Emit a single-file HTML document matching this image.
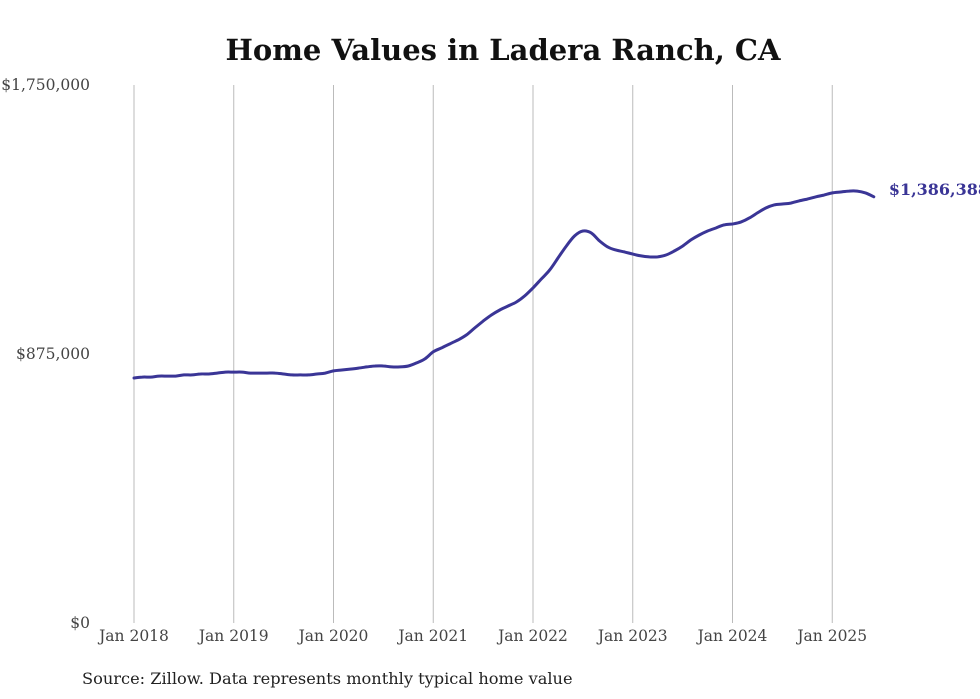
<!DOCTYPE html>
<html><head><meta charset="utf-8"><style>
html,body{margin:0;padding:0;background:#fff;width:980px;height:699px;overflow:hidden}
svg{display:block;font-family:"DejaVu Serif","Liberation Serif",serif}
</style></head><body>
<svg id="chart" width="980" height="699">
<text x="503" y="60" text-anchor="middle" font-size="29" font-weight="bold" fill="#111">Home Values in Ladera Ranch, CA</text>
<g id="grid"></g>
<g id="yaxis"></g>
<g id="xaxis"></g>
<path id="line" fill="none" stroke="#3a3596" stroke-width="3" stroke-linejoin="round" stroke-linecap="round"></path>
<text id="endlabel" font-size="16" font-weight="bold" fill="#3a3596"></text>
<text x="82" y="684" font-size="16.2" fill="#222">Source: Zillow. Data represents monthly typical home value</text>
</svg>
<script>
const yTicks=[0,875000,1750000];
const yTickLabels=["$0","$875,000","$1,750,000"];
const xTickYears=[2018,2019,2020,2021,2022,2023,2024,2025];
const startYear=2018;
const values=[
797,800,800,803,803,803,807,807,810,810,813,816,
816,816,813,813,813,813,810,807,807,807,810,813,
820,823,826,829,833,836,836,833,833,836,846,859,
882,895,908,921,937,960,982,1002,1018,1031,1044,1064,
1090,1119,1148,1187,1226,1259,1275,1269,1243,1223,1213,1207,
1200,1194,1191,1191,1197,1210,1226,1246,1262,1275,1285,1295,
1298,1304,1317,1334,1350,1360,1363,1366,1373,1379,1386,1392,
1399,1402,1405,1405,1399,1386.388].map(v=>v*1000);
const lastLabel="$1,386,388";
const NS="http://www.w3.org/2000/svg";
const x0=134,pxYear=99.75,yTop=85,yBot=623,yMax=1750000;
const xs=m=>x0+m*pxYear/12;
const ys=v=>yBot-(v/yMax)*(yBot-yTop);
function mk(t,a,p){const e=document.createElementNS(NS,t);for(const k in a)e.setAttribute(k,a[k]);p.appendChild(e);return e;}
const grid=document.getElementById('grid'),xa=document.getElementById('xaxis'),ya=document.getElementById('yaxis');
xTickYears.forEach(y=>{
 const x=xs((y-startYear)*12);
 const l=mk('line',{x1:x,x2:x,y1:yTop,y2:yBot,stroke:'#bbb','stroke-width':1},grid);
 
 
 const t=mk('text',{x:x,y:641,'text-anchor':'middle','font-size':15.5,fill:'#444'},xa);
 t.textContent='Jan '+y;
 
 
});
yTicks.forEach((v,i)=>{
 const t=mk('text',{x:90,y:ys(v)+5,'text-anchor':'end','font-size':15.5,fill:'#444'},ya);
 t.textContent=yTickLabels[i];
 
 
});
const pts=values.map((v,i)=>[xs(i),ys(v)]);
let d='M'+pts[0][0].toFixed(1)+','+pts[0][1].toFixed(1);
for(let i=0;i<pts.length-1;i++){
 const p0=pts[Math.max(0,i-1)],p1=pts[i],p2=pts[i+1],p3=pts[Math.min(pts.length-1,i+2)];
 const c1=[p1[0]+(p2[0]-p0[0])/6,p1[1]+(p2[1]-p0[1])/6],c2=[p2[0]-(p3[0]-p1[0])/6,p2[1]-(p3[1]-p1[1])/6];
 d+='C'+c1.map(n=>n.toFixed(1))+' '+c2.map(n=>n.toFixed(1))+' '+p2.map(n=>n.toFixed(1));
}
document.getElementById('line').setAttribute('d',d);
const n=values.length-1,el=document.getElementById('endlabel');
el.setAttribute('x',xs(n)+15);el.setAttribute('y',ys(values[n])-2);el.textContent=lastLabel;
</script>
</body></html>
